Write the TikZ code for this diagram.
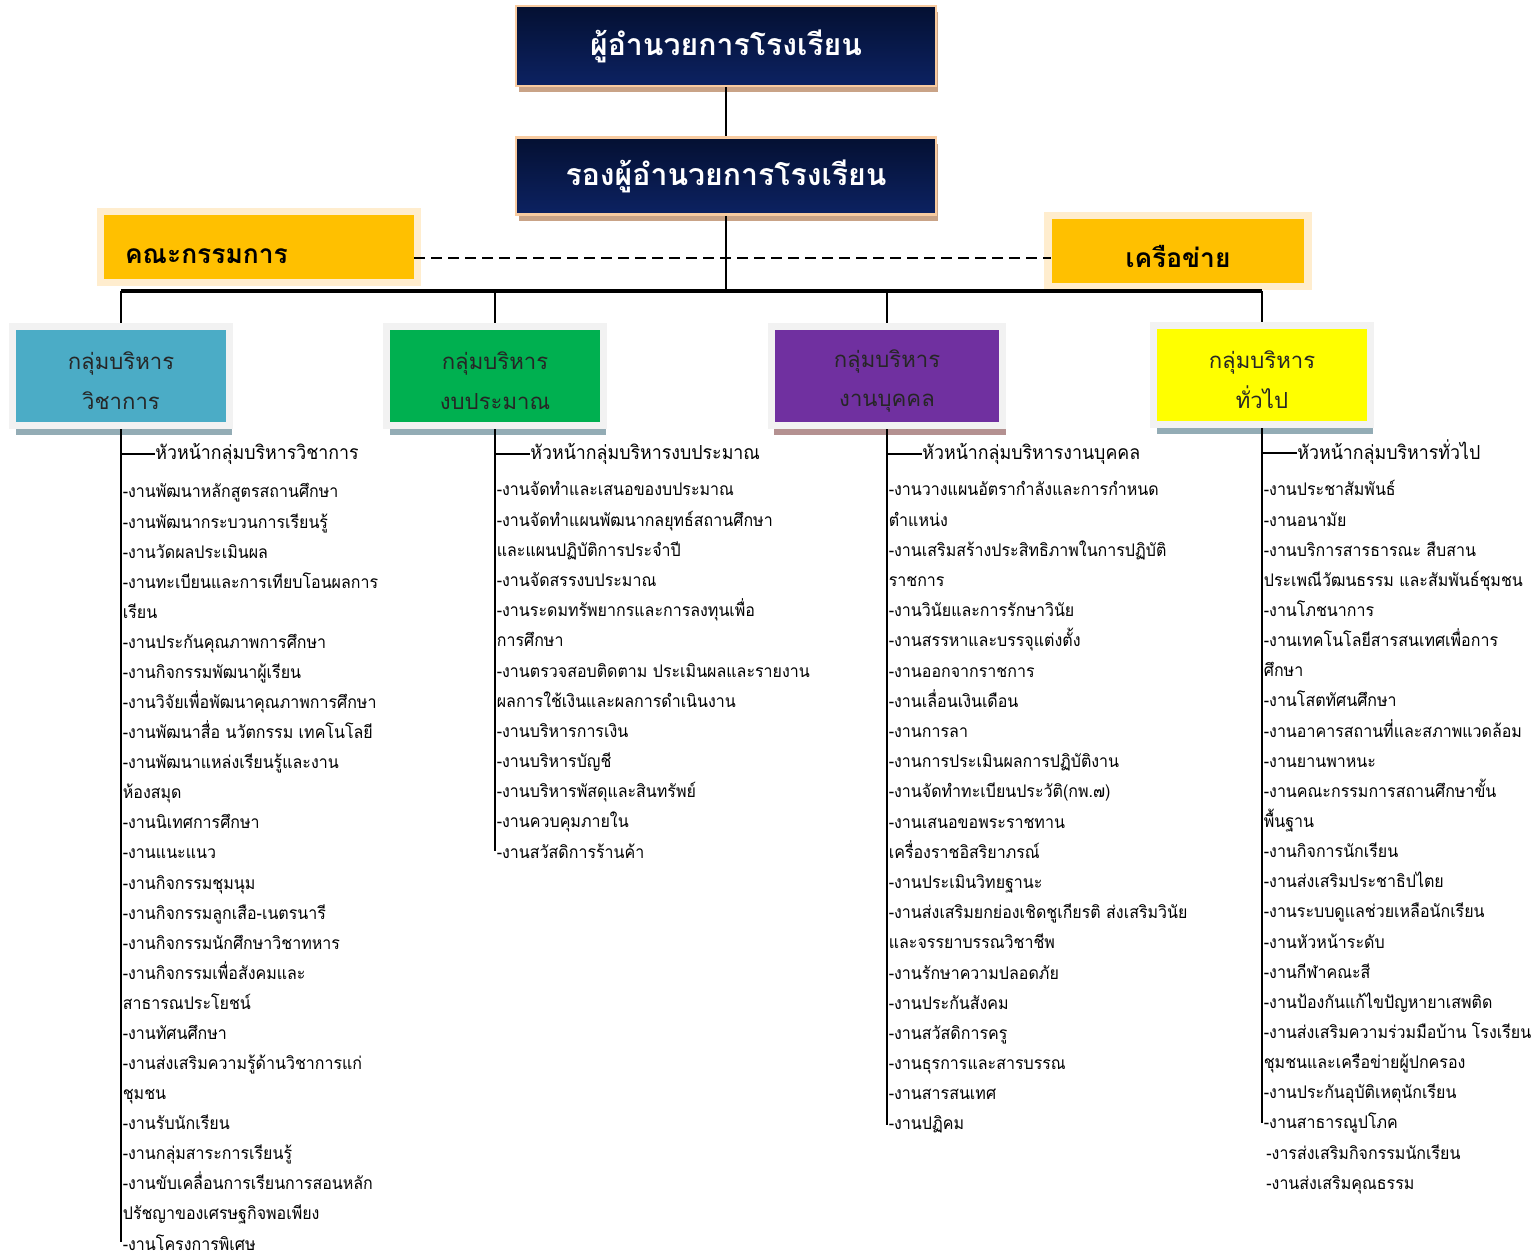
\documentclass[tikz,border=0pt]{standalone}
\usepackage{fontspec}
\newfontfamily\thaifont[Script=Thai]{Loma}
\newfontfamily\thainarrow[Script=Thai, FakeStretch=0.92]{Loma}
\usetikzlibrary{shadows}

\definecolor{navytop}{RGB}{4,16,50}
\definecolor{navybot}{RGB}{12,34,98}
\definecolor{peach}{RGB}{248,203,160}
\definecolor{tanshade}{RGB}{201,163,135}
\definecolor{amber}{RGB}{255,192,0}
\definecolor{amberglow}{RGB}{255,222,165}
\definecolor{acadblue}{RGB}{75,172,198}
\definecolor{budgetgreen}{RGB}{0,176,80}
\definecolor{staffpurple}{RGB}{112,48,160}
\definecolor{genyellow}{RGB}{255,255,0}
\definecolor{framegray}{RGB}{242,242,242}
\definecolor{blueshade}{RGB}{147,172,181}
\definecolor{redshade}{RGB}{180,145,145}

\tikzset{
  chief/.style={draw=peach, line width=1.6pt, top color=navytop, bottom color=navybot,
    minimum width=8.4cm, minimum height=1.6cm, text=white,
    font=\thaifont\bfseries\fontsize{17.2}{20}\selectfont,
    drop shadow={shadow xshift=0.05cm, shadow yshift=-0.13cm, fill=tanshade, opacity=1}},
  side/.style={fill=amber, minimum height=1.28cm, text height=0.68cm, text depth=0cm,
    font=\thaifont\bfseries\fontsize{15}{18}\selectfont,
    preaction={draw=amberglow, line width=0.3cm, opacity=0.55}},
  group/.style={draw=framegray, line width=0.14cm, minimum width=4.34cm, minimum height=2cm,
    drop shadow={shadow xshift=0.06cm, shadow yshift=-0.19cm, fill=#1, opacity=1}},
  group/.default=blueshade,
  gtext/.style={align=center, inner sep=0pt, text=black!85,
    font=\thaifont\fontsize{12.6}{22.7}\selectfont},
  item/.style={anchor=base west, inner sep=0pt, font=\thainarrow\fontsize{9.9}{12}\selectfont},
  head/.style={anchor=base west, inner sep=0pt, font=\thainarrow\fontsize{11}{13}\selectfont},
  link/.style={line width=1.1pt},
  bus/.style={line width=2pt},
  spine/.style={line width=1.4pt},
  dashline/.style={line width=1.1pt, dash pattern=on 0.22cm off 0.12cm}
}

\begin{document}
\begin{tikzpicture}[x=0.02cm, y=-0.02cm]
  \useasboundingbox (0,0) rectangle (1532,1256);
  %% director and deputy
  \node[chief] (dir) at (726,46) {ผู้อำนวยการโรงเรียน};
  \node[chief, minimum height=1.54cm] (dep) at (726,176) {รองผู้อำนวยการโรงเรียน};
  \draw[link] (dir.south) -- (dep.north);
  %% committee and network
  \node[side, minimum width=6.2cm, inner xsep=0.42cm, text width=5.36cm, align=left] (kc) at (259,247) {คณะกรรมการ};
  \node[side, minimum width=5.06cm] (net) at (1178,251) {เครือข่าย};
  \coordinate (dashy) at (0,258);
  \draw[dashline] (kc.east |- dashy) -- (net.west |- dashy);
  %% four groups
  \node[group] (ga) [fill=acadblue] at (121,376) {};
  \node[group] (gb) [fill=budgetgreen] at (495,376) {};
  \node[group=redshade] (gc) [fill=staffpurple, minimum width=4.64cm] at (887,376) {};
  \node[group] (gd) [fill=genyellow] at (1262,375) {};
  \node[gtext] (ta) at (ga.center) [yshift=-0.1cm] {กลุ่มบริหาร\\วิชาการ};
  \node[gtext] (tb) at (gb.center) [yshift=-0.1cm] {กลุ่มบริหาร\\งบประมาณ};
  \node[gtext] (tc) at (gc.center) [yshift=-0.1cm] {กลุ่มบริหาร\\งานบุคคล};
  \node[gtext] (td) at (gd.center) [yshift=-0.1cm] {กลุ่มบริหาร\\ทั่วไป};
  \coordinate (busy) at (0,291);
  \draw[link] (dep.south) -- (dep.south |- busy);
  \draw[bus] (ga.north |- busy) -- (gd.north |- busy);
  \foreach \g in {ga,gb,gc,gd}
    \draw[link] (\g.north |- busy) -- (\g.north);

  %% heads of groups
  \node[head] (ha) at (155,460) {หัวหน้ากลุ่มบริหารวิชาการ};
  \node[head] (hb) at (530,460) {หัวหน้ากลุ่มบริหารงบประมาณ};
  \node[head] (hc) at (922,460) {หัวหน้ากลุ่มบริหารงานบุคคล};
  \node[head] (hd) at (1297,460) {หัวหน้ากลุ่มบริหารทั่วไป};

  %% academic tasks
  \foreach \t [count=\i from 0] in {-งานพัฒนาหลักสูตรสถานศึกษา, -งานพัฒนากระบวนการเรียนรู้,
      -งานวัดผลประเมินผล, -งานทะเบียนและการเทียบโอนผลการ, เรียน, -งานประกันคุณภาพการศึกษา,
      -งานกิจกรรมพัฒนาผู้เรียน, -งานวิจัยเพื่อพัฒนาคุณภาพการศึกษา, -งานพัฒนาสื่อ นวัตกรรม เทคโนโลยี,
      -งานพัฒนาแหล่งเรียนรู้และงาน, ห้องสมุด, -งานนิเทศการศึกษา, -งานแนะแนว, -งานกิจกรรมชุมนุม,
      -งานกิจกรรมลูกเสือ-เนตรนารี, -งานกิจกรรมนักศึกษาวิชาทหาร, -งานกิจกรรมเพื่อสังคมและ,
      สาธารณประโยชน์, -งานทัศนศึกษา, -งานส่งเสริมความรู้ด้านวิชาการแก่, ชุมชน, -งานรับนักเรียน,
      -งานกลุ่มสาระการเรียนรู้, -งานขับเคลื่อนการเรียนการสอนหลัก, ปรัชญาของเศรษฐกิจพอเพียง,
      -งานโครงการพิเศษ}
    \node[item] (va\i) at (122.5,498+30.08*\i) {\t};

  %% budget tasks
  \foreach \t [count=\i from 0] in {-งานจัดทำและเสนอของบประมาณ, -งานจัดทำแผนพัฒนากลยุทธ์สถานศึกษา,
      และแผนปฏิบัติการประจำปี, -งานจัดสรรงบประมาณ, -งานระดมทรัพยากรและการลงทุนเพื่อ, การศึกษา,
      -งานตรวจสอบติดตาม ประเมินผลและรายงาน, ผลการใช้เงินและผลการดำเนินงาน, -งานบริหารการเงิน,
      -งานบริหารบัญชี, -งานบริหารพัสดุและสินทรัพย์, -งานควบคุมภายใน, -งานสวัสดิการร้านค้า}
    \node[item] (vb\i) at (496.5,496+30.17*\i) {\t};

  %% personnel tasks
  \foreach \t [count=\i from 0] in {-งานวางแผนอัตรากำลังและการกำหนด, ตำแหน่ง,
      -งานเสริมสร้างประสิทธิภาพในการปฏิบัติ, ราชการ, -งานวินัยและการรักษาวินัย,
      -งานสรรหาและบรรจุแต่งตั้ง, -งานออกจากราชการ, -งานเลื่อนเงินเดือน, -งานการลา,
      -งานการประเมินผลการปฏิบัติงาน, -งานจัดทำทะเบียนประวัติ(กพ.๗), -งานเสนอขอพระราชทาน,
      เครื่องราชอิสริยาภรณ์, -งานประเมินวิทยฐานะ, -งานส่งเสริมยกย่องเชิดชูเกียรติ ส่งเสริมวินัย,
      และจรรยาบรรณวิชาชีพ, -งานรักษาความปลอดภัย, -งานประกันสังคม, -งานสวัสดิการครู,
      -งานธุรการและสารบรรณ, -งานสารสนเทศ, -งานปฏิคม}
    \node[item] (vc\i) at (888.5,496+30.19*\i) {\t};

  %% general tasks
  \foreach \t [count=\i from 0] in {-งานประชาสัมพันธ์, -งานอนามัย, -งานบริการสารธารณะ สืบสาน,
      ประเพณีวัฒนธรรม และสัมพันธ์ชุมชน, -งานโภชนาการ, -งานเทคโนโลยีสารสนเทศเพื่อการ, ศึกษา,
      -งานโสตทัศนศึกษา, -งานอาคารสถานที่และสภาพแวดล้อม, -งานยานพาหนะ,
      -งานคณะกรรมการสถานศึกษาขั้น, พื้นฐาน, -งานกิจการนักเรียน, -งานส่งเสริมประชาธิปไตย,
      -งานระบบดูแลช่วยเหลือนักเรียน, -งานหัวหน้าระดับ, -งานกีฬาคณะสี,
      -งานป้องกันแก้ไขปัญหายาเสพติด, -งานส่งเสริมความร่วมมือบ้าน โรงเรียน,
      ชุมชนและเครือข่ายผู้ปกครอง, -งานประกันอุบัติเหตุนักเรียน, -งานสาธารณูปโภค}
    \node[item] (vd\i) at (1263.5,496+30.14*\i) {\t};
  \node[item] (vd22) at (1266,1159) {-งารส่งเสริมกิจกรรมนักเรียน};
  \node[item] (vd23) at (1266,1189) {-งานส่งเสริมคุณธรรม};

  %% spines
  \draw[spine] (ga.south) -- (ga.south |- va25.west);
  \draw[spine] (gb.south) -- (gb.south |- vb12.west);
  \draw[spine] (gc.south) -- (gc.south |- vc21.west);
  \draw[spine] (gd.south) -- (gd.south |- vd21.west);
  \foreach \g/\h in {ga/ha,gb/hb,gc/hc,gd/hd}
    \draw[link] (\g.south |- \h.west) -- (\h.west);
\end{tikzpicture}
\end{document}
